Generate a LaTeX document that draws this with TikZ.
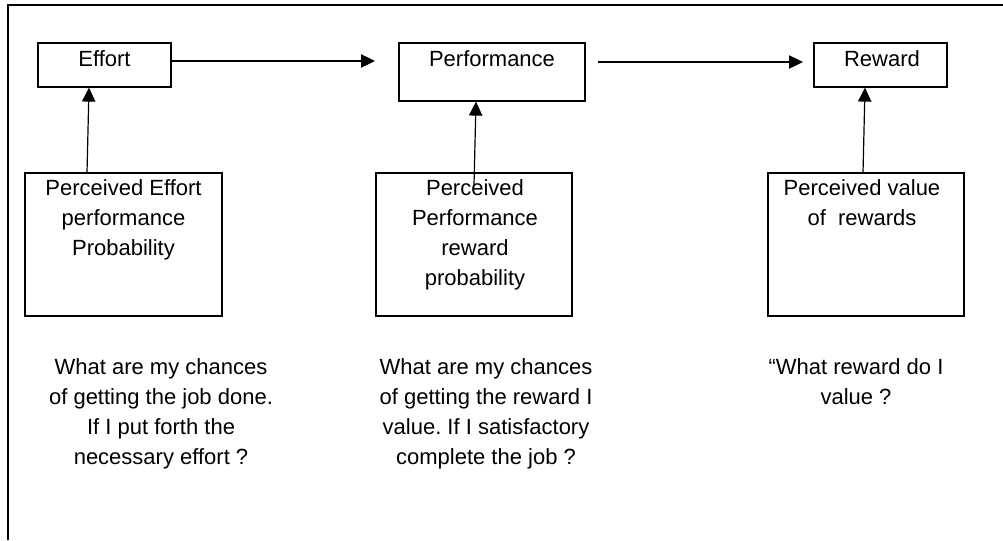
\documentclass[tikz,border=0pt]{standalone}
\usepackage{fontspec}
\setmainfont{Liberation Sans}
\usetikzlibrary{arrows.meta}
\frenchspacing
\begin{document}
\begin{tikzpicture}[x=0.75pt,y=-0.75pt,font=\fontsize{16.5}{22.5}\selectfont,
  box/.style={draw,line width=0.9pt,inner sep=0pt},
  txt/.style={anchor=north,align=center,inner sep=0pt},
  arr/.style={-{Triangle[length=10.5pt,width=10pt]},line width=0.9pt}]
  \useasboundingbox (0,0) rectangle (1003,540);
  % frame, runs off the page on the right and at the bottom
  \draw[line width=1.3pt] (8,540) -- (8,5) -- (1003,5);
  % top row
  \node[box,minimum width=99.75pt,minimum height=33pt] (effort) at (104.5,65) {};
  \node[box,minimum width=139.5pt,minimum height=43.5pt] (perf) at (492,72) {};
  \node[box,minimum width=99.75pt,minimum height=33pt] (reward) at (880.5,65) {};
  \node[txt] (effort-t) at (104.5,50) {Effort};
  \node[txt] (perf-t) at (492,50) {Performance};
  \node[txt] (reward-t) at (882,50) {Reward};
  % perceived boxes
  \node[box,minimum width=147.75pt,minimum height=107.25pt] (pep) at (123.5,244.5) {};
  \node[box,minimum width=147pt,minimum height=107.25pt] (ppr) at (474,244.5) {};
  \node[box,minimum width=147pt,minimum height=107.25pt] (pvr) at (866,244.5) {};
  \node[txt] (pep-t) at (123.5,179) {Perceived Effort\\performance\\Probability};
  \node[txt] (ppr-t) at (475,179) {Perceived\\Performance\\reward\\probability};
  \node[txt] (pvr-t) at (862,179) {Perceived value\\of\ \ rewards};
  % questions
  \node[txt] (q1) at (161,358)
    {What are my chances\\of getting the job done.\\If I put forth the\\necessary effort ?};
  \node[txt] (q2) at (486,358)
    {What are my chances\\of getting the reward I\\value. If I satisfactory\\complete the job ?};
  \node[txt] (q3) at (856,358) {“What reward do I\\value ?};
  % arrows
  \coordinate (h1) at (375,61);
  \coordinate (h2a) at (598,62);
  \coordinate (h2b) at (803,62);
  \coordinate (v1) at (87,173);
  \coordinate (v2) at (474,185);
  \coordinate (v3) at (863,173);
  \draw[arr] (effort.east |- h1) -- (h1);
  \draw[arr] (h2a) -- (h2b);
  \draw[arr] (v1) -- ([xshift=1.5pt]v1 |- effort.south);
  \draw[arr] (v2) -- ([xshift=1.5pt]v2 |- perf.south);
  \draw[arr] (v3) -- ([xshift=1.5pt]v3 |- reward.south);
\end{tikzpicture}
\end{document}
